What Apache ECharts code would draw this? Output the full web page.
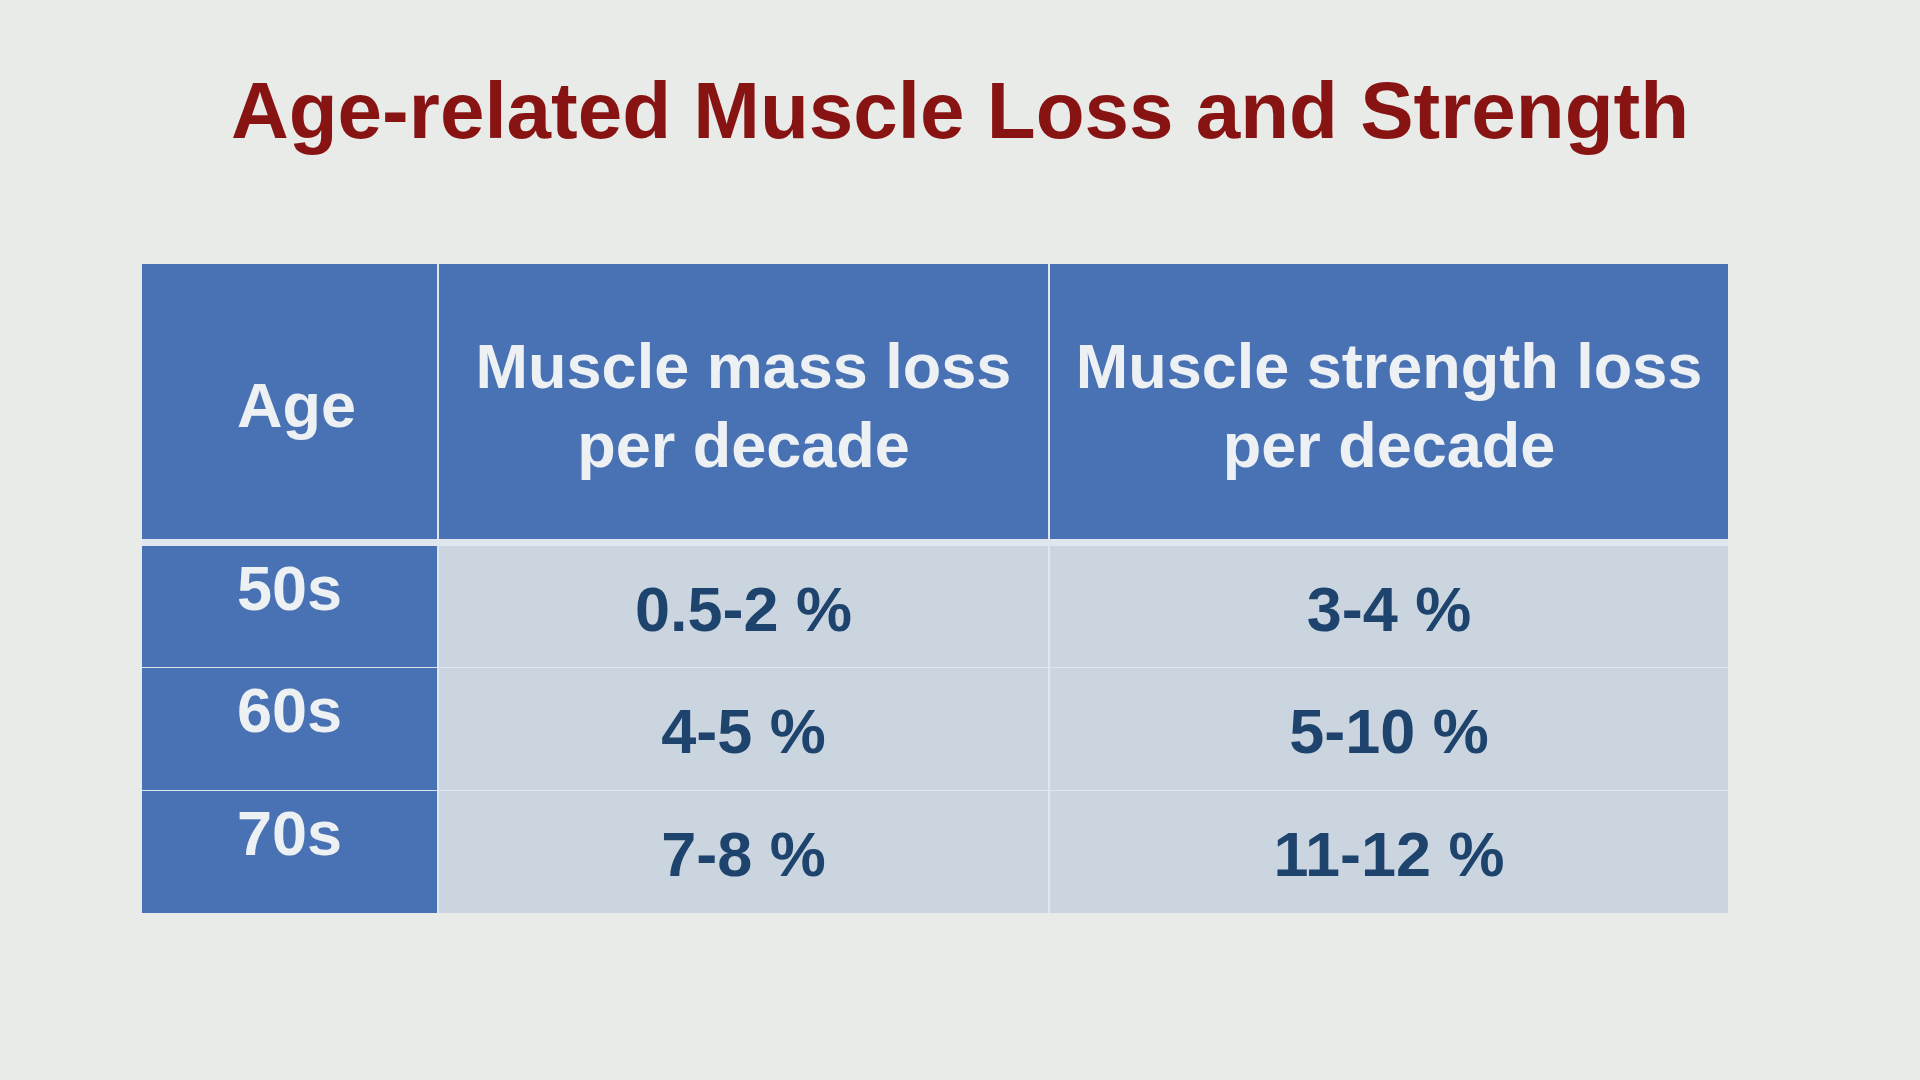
<!DOCTYPE html>
<html>
<head>
<meta charset="utf-8">
<title>Age-related Muscle Loss and Strength</title>
<script src="https://cdn.jsdelivr.net/npm/echarts@6/dist/echarts.min.js"></script>
<style>
  html, body { margin: 0; padding: 0; background: #e8ebe8; }
  #chart { width: 1920px; height: 1080px; }
</style>
</head>
<body>
<div id="chart"></div>
<script>
// table content
var headers = ['Age', 'Muscle mass loss\nper decade', 'Muscle strength loss\nper decade'];
var ages = ['50s', '60s', '70s'];
var massLoss = ['0.5-2 %', '4-5 %', '7-8 %'];
var strengthLoss = ['3-4 %', '5-10 %', '11-12 %'];

// layout (px)
var colEdges = [142, 438, 1049, 1728];
var rowEdges = [264, 539, 546, 668, 791, 913]; // header top/bottom, then body rows
var FONT = '"Liberation Sans", Arial, Helvetica, sans-serif';

var cells = [];
for (var c = 0; c < headers.length; c++) {
    cells.push({ value: [0, c], text: headers[c] });
}
for (var r = 0; r < ages.length; r++) {
    cells.push({ value: [r + 1, 0], text: ages[r] });
    cells.push({ value: [r + 1, 1], text: massLoss[r] });
    cells.push({ value: [r + 1, 2], text: strengthLoss[r] });
}

function cellRect(row, col) {
    var x0 = colEdges[col], x1 = colEdges[col + 1];
    var y0, y1;
    if (row === 0) { y0 = rowEdges[0]; y1 = rowEdges[1]; }
    else { y0 = rowEdges[row + 1]; y1 = (row === 3) ? rowEdges[5] : rowEdges[row + 2] - 1; }
    // thin divider between columns
    if (col > 0) x0 += 1;
    if (col < 2) x1 -= 1;
    return { x: x0, y: y0, width: x1 - x0, height: y1 - y0 };
}

function renderCell(params, api) {
    var row = api.value(0), col = api.value(1);
    var rect = cellRect(row, col);
    var txt = cells[params.dataIndex].text;
    var isBlue = row === 0 || col === 0;
    var cx = rect.x + rect.width / 2;
    var cy;
    if (row === 0) {
        cy = 410;
        if (col === 0) cx += 7;
    }
    else if (col === 0) cy = rect.y + 47;
    else cy = rect.y + rect.height / 2 + 7;
    return {
        type: 'group',
        children: [{
            type: 'rect',
            shape: rect,
            style: { fill: isBlue ? '#4872b4' : '#cbd5e0' }
        }, {
            type: 'text',
            style: {
                x: cx, y: cy,
                text: txt,
                align: 'center',
                verticalAlign: 'middle',
                fontFamily: FONT,
                fontWeight: 'bold',
                fontSize: 63,
                lineHeight: 79,
                fill: isBlue ? '#eef1f3' : '#1e446e'
            }
        }]
    };
}

var chart = echarts.init(document.getElementById('chart'));
var option = {
    backgroundColor: '#e8ebe8',
    animation: false,
    title: {
        text: 'Age-related Muscle Loss and Strength',
        left: 'center',
        top: 71,
        textStyle: {
            fontFamily: FONT,
            fontWeight: 'bold',
            fontSize: 80,
            color: '#881313'
        }
    },
    graphic: [{
        type: 'rect',
        shape: { x: colEdges[0], y: rowEdges[0], width: colEdges[3] - colEdges[0], height: rowEdges[5] - rowEdges[0] },
        style: { fill: '#dfe6ee' },
        z: 0
    }],
    series: [{
        type: 'custom',
        coordinateSystem: 'none',
        renderItem: renderCell,
        data: cells,
        z: 2
    }]
};
chart.setOption(option);
</script>
</body>
</html>
